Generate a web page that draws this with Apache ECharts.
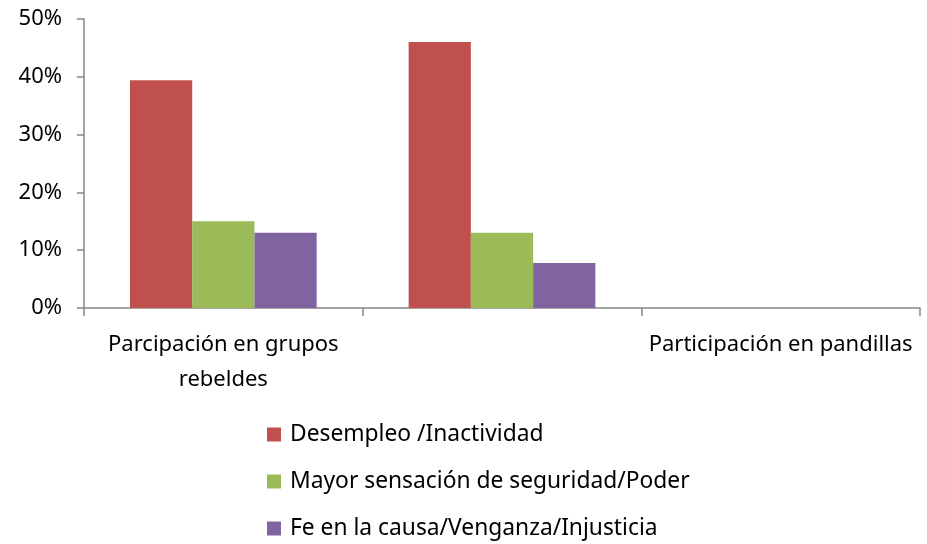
<!DOCTYPE html>
<html><head><meta charset="utf-8">
<script src="https://cdn.jsdelivr.net/npm/echarts@6/dist/echarts.min.js"></script>
<style>html,body{margin:0;padding:0;background:#fff}#c{width:927px;height:544px}</style>
</head><body><div id="c"></div>
<script>
const categories = ['Parcipación en grupos rebeldes', '', 'Participación en pandillas'];
const seriesNames = ['Desempleo /Inactividad', 'Mayor sensación de seguridad/Poder', 'Fe en la causa/Venganza/Injusticia'];
const desempleo = [39.4, 46.0, null];
const seguridad = [15.0, 13.0, null];
const fe = [13.0, 7.8, null];
const yTicks = [0, 10, 20, 30, 40, 50];
const colors = ['#C0504D', '#9BBB59', '#8064A2'];
const FONT = 'Noto Sans';

const chart = echarts.init(document.getElementById('c'), null, {renderer: 'canvas'});
const values = [desempleo, seguridad, fe];
chart.setOption({
  animation: false,
  grid: {left: 84, right: 7, top: 19, bottom: 236, containLabel: false},
  legend: {
    orient: 'vertical', left: 267, top: 422, padding: 0, itemGap: 22, itemWidth: 14, itemHeight: 14,
    icon: 'rect', textStyle: {fontFamily: FONT, fontSize: 22.8, color: '#000', lineHeight: 25, padding: [0, 0, 0, 4]},
    data: seriesNames
  },
  xAxis: {
    type: 'category', data: categories,
    axisLine: {lineStyle: {color: '#868686', width: 1.5}},
    axisTick: {show: true, length: 8, lineStyle: {color: '#868686', width: 1.5}},
    axisLabel: {interval: 0, margin: 19, fontFamily: FONT, fontSize: 22, color: '#000', lineHeight: 35,
      formatter: v => v.replace('grupos ', 'grupos\n')}
  },
  yAxis: {
    type: 'value', min: yTicks[0], max: yTicks[yTicks.length-1], interval: 10,
    axisLine: {show: true, lineStyle: {color: '#868686', width: 1.5}},
    axisTick: {show: true, length: 7, lineStyle: {color: '#868686', width: 1.5}},
    splitLine: {show: false},
    axisLabel: {margin: 22, fontFamily: FONT, fontSize: 22, color: '#000', formatter: v => v + '%'}
  },
  series: seriesNames.map((n, i) => ({
    name: n, type: 'bar', data: values[i], barGap: '0%', barCategoryGap: '33%',
    itemStyle: {color: colors[i]}
  }))
});
</script></body></html>
